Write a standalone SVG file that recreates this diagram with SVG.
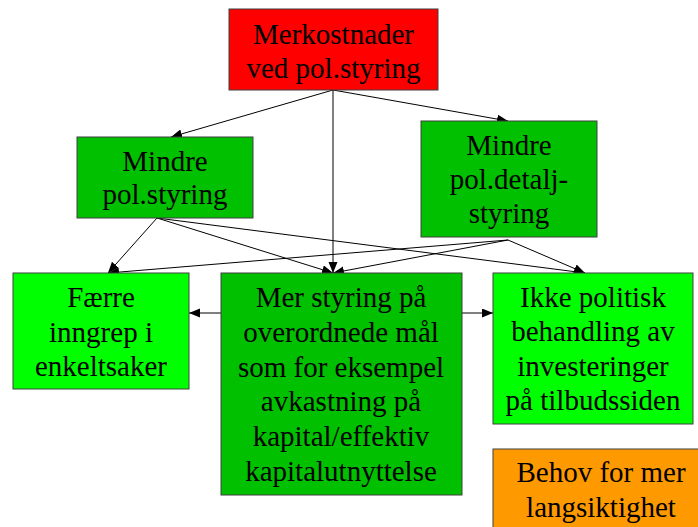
<svg xmlns="http://www.w3.org/2000/svg" width="698" height="527" viewBox="0 0 698 527">
<defs>
<marker id="ah" markerUnits="userSpaceOnUse" markerWidth="12" markerHeight="10" refX="11" refY="4.5" orient="auto">
<path d="M0,0 L11,4.5 L0,9 z" fill="#000"/>
</marker>
<style>
.box{stroke:#404040;stroke-width:1}
.red{fill:#ff0000}
.dg{fill:#00c000}
.lg{fill:#00ff00}
.or{fill:#ff9900}
text{font-family:"Liberation Serif","Times New Roman",serif;font-size:29px;fill:#000;text-anchor:middle}
.c line{stroke:#000;stroke-width:1;marker-end:url(#ah)}
</style>
</defs>
<rect width="698" height="527" fill="#fff"/>
<g class="c" id="connectors">
<line x1="333" y1="90" x2="171" y2="137"/>
<line x1="333" y1="90" x2="333" y2="273"/>
<line x1="333" y1="90" x2="508" y2="121"/>
<line x1="157" y1="218" x2="108" y2="273"/>
<line x1="157" y1="218" x2="333" y2="273"/>
<line x1="157" y1="218" x2="585" y2="273"/>
<line x1="508" y1="240" x2="108" y2="273"/>
<line x1="508" y1="240" x2="333" y2="273"/>
<line x1="508" y1="240" x2="585" y2="273"/>
<line x1="221" y1="313" x2="189" y2="313"/>
<line x1="462" y1="313" x2="493" y2="313"/>
</g>
<g id="merkostnader">
<rect class="box red" x="229" y="9" width="209" height="81"/>
<text x="333.5" y="43.5">Merkostnader</text>
<text x="333.5" y="77.5">ved pol.styring</text>
</g>
<g id="mindre-styring">
<rect class="box dg" x="77" y="137" width="176" height="81"/>
<text x="165" y="171">Mindre</text>
<text x="165" y="204">pol.styring</text>
</g>
<g id="mindre-detalj">
<rect class="box dg" x="421" y="121" width="176" height="116"/>
<text x="509" y="155">Mindre</text>
<text x="509" y="189">pol.detalj-</text>
<text x="509" y="223">styring</text>
</g>
<g id="faerre">
<rect class="box lg" x="13" y="273" width="176" height="116"/>
<text x="101" y="307">Færre</text>
<text x="101" y="341.5">inngrep i</text>
<text x="101" y="376">enkeltsaker</text>
</g>
<g id="mer-styring">
<rect class="box dg" x="221" y="273" width="241" height="222"/>
<text x="341" y="307">Mer styring på</text>
<text x="341" y="342">overordnede mål</text>
<text x="341" y="376.5">som for eksempel</text>
<text x="341" y="411">avkastning på</text>
<text x="341" y="446">kapital/effektiv</text>
<text x="341" y="481">kapitalutnyttelse</text>
</g>
<g id="ikke-politisk">
<rect class="box lg" x="493" y="273" width="200" height="151"/>
<text x="593" y="307">Ikke politisk</text>
<text x="593" y="341">behandling av</text>
<text x="593" y="376">investeringer</text>
<text x="593" y="410">på tilbudssiden</text>
</g>
<g id="behov">
<rect class="box or" x="493" y="449" width="216" height="100"/>
<text x="601" y="482">Behov for mer</text>
<text x="601" y="516.5">langsiktighet</text>
</g>
</svg>
